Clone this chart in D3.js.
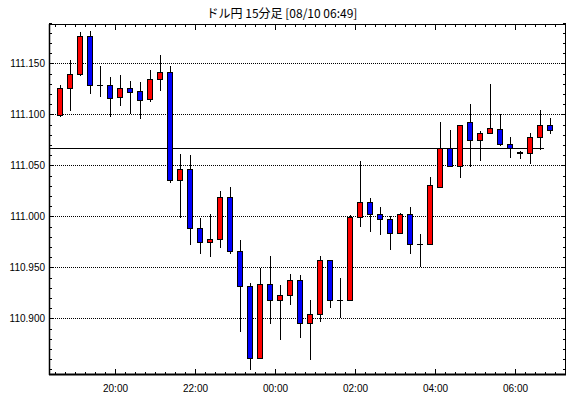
<!DOCTYPE html>
<html><head><meta charset="utf-8">
<script src="https://cdn.jsdelivr.net/npm/d3@7"></script>
<style>body{margin:0;background:#fff;}svg{display:block;}</style>
</head><body>
<script>
const title = "ドル円 15分足 [08/10 06:49]";
const times = ["18:30","18:45","19:00","19:15","19:30","19:45","20:00","20:15","20:30","20:45",
"21:00","21:15","21:30","21:45","22:00","22:15","22:30","22:45","23:00","23:15",
"23:30","23:45","00:00","00:15","00:30","00:45","01:00","01:15","01:30","01:45",
"02:00","02:15","02:30","02:45","03:00","03:15","03:30","03:45","04:00","04:15",
"04:30","04:45","05:00","05:15","05:30","05:45","06:00","06:15","06:30","06:45"];
const open = [111.0995,111.1257,111.1394,111.1773,111.1286,111.1286,111.1169,111.1257,111.1227,111.1149,
111.1345,111.1414,111.0355,111.0463,110.9884,110.9747,110.9776,111.0188,110.9659,110.9316,
110.8610,110.9335,110.9178,110.9227,110.9375,110.8953,110.9041,110.9570,110.9178,110.9178,
110.9992,111.0139,111.0022,110.9973,110.9835,111.0022,110.9727,110.9727,111.0286,111.0675,
111.0492,111.0924,111.0747,111.0816,111.0855,111.0708,111.0630,111.0620,111.0776,111.0894];
const high = [111.1289,111.1534,111.1812,111.1819,111.1475,111.1368,111.1387,111.1328,111.1316,111.1436,
111.1583,111.1475,111.0610,111.0603,110.9982,111.0025,111.0250,111.0292,110.9770,110.9348,
110.9492,110.9613,110.9328,110.9436,110.9424,110.9181,110.9613,110.9570,110.9400,111.0012,
111.0544,111.0178,111.0090,111.0005,111.0031,111.0090,110.9828,111.0384,111.0924,111.0848,
111.0894,111.1103,111.0838,111.1299,111.1002,111.0776,111.0639,111.0816,111.1044,111.0963];
const low = [111.0988,111.1044,111.1390,111.1214,111.1184,111.0988,111.1093,111.1018,111.0969,111.1132,
111.1240,111.0341,110.9992,110.9727,110.9639,110.9616,110.9704,110.9639,110.8880,110.8505,
110.8610,110.8959,110.8802,110.9145,110.8822,110.8600,110.8978,110.9116,110.9018,110.9178,
110.9910,110.9861,110.9831,110.9684,110.9835,110.9645,110.9518,110.9727,111.0286,111.0495,
111.0390,111.0492,111.0554,111.0816,111.0698,111.0586,111.0576,111.0522,111.0659,111.0816];
const close = [111.1257,111.1394,111.1773,111.1286,111.1286,111.1159,111.1257,111.1224,111.1145,111.1345,
111.1414,111.0355,111.0463,110.9884,110.9747,110.9776,111.0188,110.9659,110.9316,110.8610,
110.9335,110.9178,110.9227,110.9375,110.8953,110.9041,110.9570,110.9178,110.9178,110.9992,
111.0139,111.0022,110.9973,110.9835,111.0022,110.9727,110.9727,111.0306,111.0675,111.0495,
111.0894,111.0753,111.0816,111.0865,111.0708,111.0675,111.0625,111.0776,111.0894,111.0845];
const yTickValues = [110.900,110.950,111.000,111.050,111.100,111.150];
const xTickLabels = ["20:00","22:00","00:00","02:00","04:00","06:00"];
const currentPrice = 111.067;

const W = 570, H = 398;
const L = 49, R = 566, T = 24, B = 375;

const base = new Date(2017, 7, 9, 0, 0);
function toDate(s, idxDayShift) {
  const [h, m] = s.split(":").map(Number);
  const d = new Date(base); d.setDate(d.getDate() + idxDayShift); d.setHours(h, m, 0, 0); return d;
}
let shift = 0, prevH = -1;
const dates = times.map(s => { const h = +s.split(":")[0]; if (h < prevH) shift = 1; prevH = h; return toDate(s, shift); });
const data = times.map((t, i) => ({t: dates[i], o: open[i], h: high[i], l: low[i], c: close[i]}));

const ref = new Date(2017, 7, 9, 20, 0);
const minPerPx = 1.5;
const x = d3.scaleTime()
  .domain([new Date(+ref - (115 - L) * minPerPx * 60000), new Date(+ref + (R - 115) * minPerPx * 60000)])
  .range([L, R]);
const y = d3.scaleLinear().domain([110.8446, 111.1887]).range([B, T]);

const svg = d3.select("body").append("svg").attr("width", W).attr("height", H)
  .style("font-family", "'Liberation Sans', Arial, sans-serif");

svg.append("text").attr("x", 282).attr("y", 18).attr("text-anchor", "middle")
  .style("font-family", "'Noto Sans CJK JP', sans-serif").style("font-size", "12px").text(title);

// gridlines
svg.append("g").selectAll("line").data(yTickValues).join("line")
  .attr("x1", L).attr("x2", R)
  .attr("y1", d => Math.round(y(d)) + 0.5).attr("y2", d => Math.round(y(d)) + 0.5)
  .attr("stroke", "#000").attr("stroke-width", 1).attr("stroke-dasharray", "1,1");

// current price line
svg.append("line").attr("x1", L).attr("x2", 544)
  .attr("y1", Math.round(y(currentPrice)) + 0.5).attr("y2", Math.round(y(currentPrice)) + 0.5)
  .attr("stroke", "#000").attr("stroke-width", 1);

// axis ticks
const minor = d3.timeMinute.every(15).range(x.domain()[0], x.domain()[1]);
const fmt = d3.timeFormat("%H:%M");
const isMajor = d => d.getMinutes() === 0 && d.getHours() % 2 === 0;
const tg = svg.append("g");
minor.forEach(d => {
  const px = Math.round(x(d)) + 0.5;
  const len = isMajor(d) ? 6 : 3;
  tg.append("line").attr("x1", px).attr("x2", px).attr("y1", B).attr("y2", B - len).attr("stroke", "#000");
  tg.append("line").attr("x1", px).attr("x2", px).attr("y1", T).attr("y2", T + len).attr("stroke", "#000");
});
const yMinor = d3.range(110.85, 111.19, 0.01);
yMinor.forEach(v => {
  const py = Math.round(y(v)) + 0.5;
  const major = yTickValues.some(t => Math.abs(t - v) < 1e-6);
  const len = major ? 5 : 3;
  tg.append("line").attr("x1", L).attr("x2", L + len).attr("y1", py).attr("y2", py).attr("stroke", "#000");
  tg.append("line").attr("x1", R).attr("x2", R - len).attr("y1", py).attr("y2", py).attr("stroke", "#000");
});

const labelDates = minor.filter(isMajor);
const ax = svg.append("g").attr("transform", `translate(0,${B})`)
  .call(d3.axisBottom(x).tickValues(labelDates).tickSize(0).tickPadding(10)
    .tickFormat((d, i) => xTickLabels[i] || fmt(d)));
ax.select(".domain").remove();
ax.selectAll("text").style("font-size", "10px").style("font-family", "'Liberation Sans', Arial, sans-serif").attr("fill", "#000");

const ay = svg.append("g").attr("transform", `translate(${L},0)`)
  .call(d3.axisLeft(y).tickValues(yTickValues).tickSize(0).tickPadding(4).tickFormat(d3.format(".3f")));
ay.select(".domain").remove();
ay.selectAll("text").style("font-size", "10px").style("font-family", "'Liberation Sans', Arial, sans-serif").attr("fill", "#000");

// candles
const half = 7.5 * 60000;
const cg = svg.append("g");
data.forEach(d => {
  const cx = Math.round(x(new Date(+d.t + half))) - 0.5;
  const wx = cx + 1;
  cg.append("line").attr("x1", wx).attr("x2", wx).attr("y1", Math.round(y(d.h))).attr("y2", Math.round(y(d.l)) + 1)
    .attr("stroke", "#000").attr("stroke-width", 1);
  const top = y(Math.max(d.o, d.c)), bot = y(Math.min(d.o, d.c));
  if (Math.abs(d.o - d.c) < 1e-6) {
    cg.append("line").attr("x1", cx - 2.5).attr("x2", cx + 3.5)
      .attr("y1", Math.round(top) + 0.5).attr("y2", Math.round(top) + 0.5).attr("stroke", "#000");
  } else {
    cg.append("rect").attr("x", cx - 2).attr("width", 5)
      .attr("y", Math.round(top) + 0.5).attr("height", Math.max(1, Math.round(bot) - Math.round(top)))
      .attr("fill", d.c > d.o ? "#ff0000" : "#0000ff").attr("stroke", "#000").attr("stroke-width", 1);
  }
});

// frame
svg.append("rect").attr("x", L + 0.5).attr("y", T + 0.5).attr("width", R - L - 1).attr("height", B - T - 1)
  .attr("fill", "none").attr("stroke", "#000").attr("stroke-width", 1);
svg.append("line").attr("x1", L).attr("x2", R).attr("y1", B - 0.5).attr("y2", B - 0.5).attr("stroke", "#000").attr("stroke-width", 2);
svg.append("line").attr("x1", L + 0.5).attr("x2", L + 0.5).attr("y1", T).attr("y2", B).attr("stroke", "#000").attr("stroke-width", 1.5);
</script>
</body></html>
